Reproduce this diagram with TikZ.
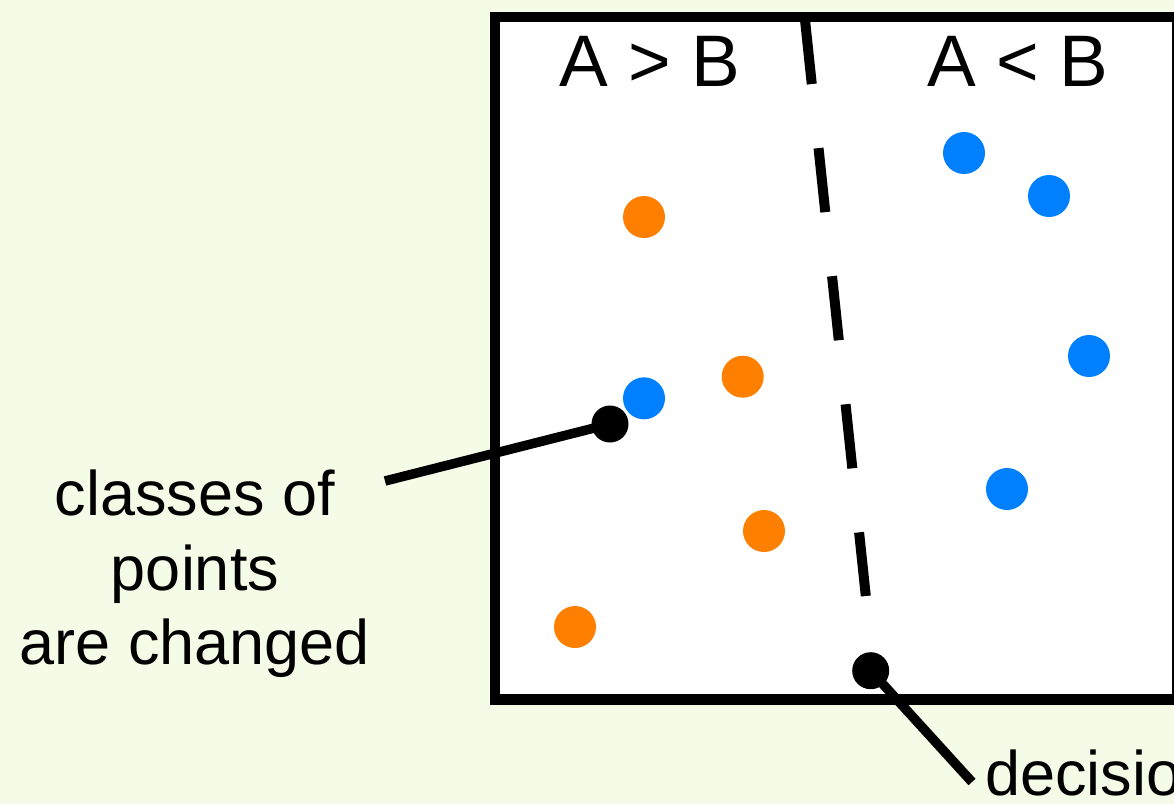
\documentclass[tikz,border=0pt]{standalone}
\usepackage{fontspec}
\setmainfont{Liberation Sans}
\definecolor{bgc}{RGB}{244,252,232}
\definecolor{ptblue}{RGB}{0,128,255}
\definecolor{ptorange}{RGB}{255,128,0}
\tikzset{
  bigtxt/.style={inner sep=0pt, font=\fontsize{73}{80}\selectfont, anchor=base},
  lbltxt/.style={inner sep=0pt, font=\fontsize{63}{74}\selectfont, anchor=base},
  bluept/.style={circle, fill=ptblue, minimum size=42pt, inner sep=0pt},
  orangept/.style={circle, fill=ptorange, minimum size=42pt, inner sep=0pt},
  blackpt/.style={circle, fill=black, minimum size=37pt, inner sep=0pt},
  leader/.style={line width=9.5pt},
  frame/.style={line width=10.5pt, fill=white},
  boundary/.style={line width=10pt, dash pattern=on 64.4pt off 64.4pt}
}
\begin{document}
\begin{tikzpicture}[x=1pt,y=-1pt]
\useasboundingbox (0,0) rectangle (1174,804);
\clip (0,0) rectangle (1174,804);
\fill[bgc] (0,0) rectangle (1174,804);
% frame
\draw[frame] (495,17) rectangle (1177.5,699.5);
% decision boundary
\coordinate (b1) at (805,20);
\coordinate (b2) at (865.8,596);
\draw[boundary] (b1) -- (b2);
% header labels
\node[bigtxt] (gt) at (649.7,86.7) {A > B};
\node[bigtxt] (lt) at (1017.5,86.7) {A < B};
% points
\node[orangept] (o1) at (644,217) {};
\node[orangept] (o2) at (742.7,376.7) {};
\node[orangept] (o3) at (764,531) {};
\node[orangept] (o4) at (575,627) {};
\node[bluept] (p1) at (644,398.3) {};
\node[bluept] (p2) at (964,153) {};
\node[bluept] (p3) at (1049,196) {};
\node[bluept] (p4) at (1089,356) {};
\node[bluept] (p5) at (1007,489) {};
% leader 1
\node[blackpt] (k1) at (610,424) {};
\coordinate (e1) at (385,481);
\draw[leader] (e1) -- (k1.center);
\node[lbltxt] (c1) at (195,515) {classes of};
\node[lbltxt] (c2) at (195,590) {points};
\node[lbltxt] (c3) at (195,664) {are changed};
% leader 2
\node[blackpt] (k2) at (870.7,670.7) {};
\coordinate (e2) at (972,782);
\draw[leader] (k2.center) -- (e2);
\node[lbltxt, anchor=base west] (dl) at (985,795) {decision};
\end{tikzpicture}
\end{document}
